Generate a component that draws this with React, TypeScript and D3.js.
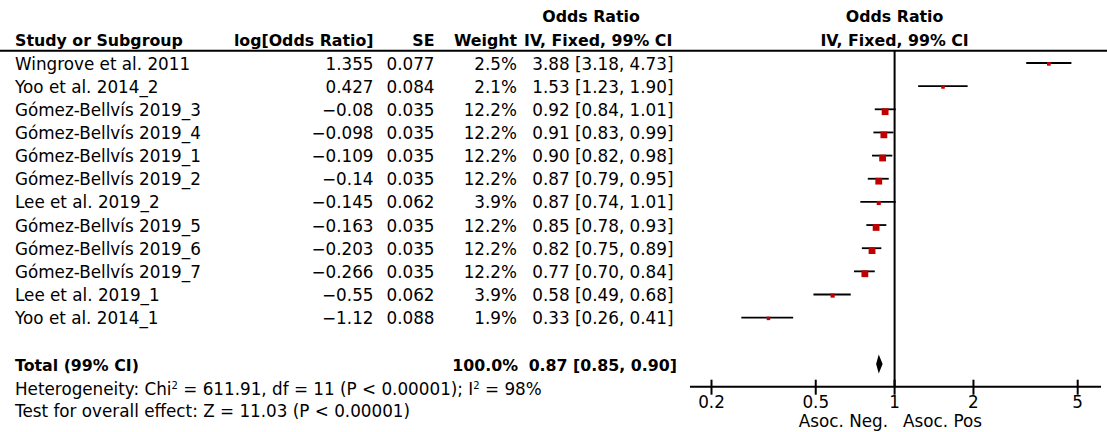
import React from "react";
import * as d3 from "d3";

const studies = [
  "Wingrove et al. 2011",
  "Yoo et al. 2014_2",
  "Gómez-Bellvís 2019_3",
  "Gómez-Bellvís 2019_4",
  "Gómez-Bellvís 2019_1",
  "Gómez-Bellvís 2019_2",
  "Lee et al. 2019_2",
  "Gómez-Bellvís 2019_5",
  "Gómez-Bellvís 2019_6",
  "Gómez-Bellvís 2019_7",
  "Lee et al. 2019_1",
  "Yoo et al. 2014_1",
];
const logOR = [1.355, 0.427, -0.08, -0.098, -0.109, -0.14, -0.145, -0.163, -0.203, -0.266, -0.55, -1.12];
const seVals = [0.077, 0.084, 0.035, 0.035, 0.035, 0.035, 0.062, 0.035, 0.035, 0.035, 0.062, 0.088];
const weights = [2.5, 2.1, 12.2, 12.2, 12.2, 12.2, 3.9, 12.2, 12.2, 12.2, 3.9, 1.9];
const orVals = [3.88, 1.53, 0.92, 0.91, 0.9, 0.87, 0.87, 0.85, 0.82, 0.77, 0.58, 0.33];
const orLo = [3.18, 1.23, 0.84, 0.83, 0.82, 0.79, 0.74, 0.78, 0.75, 0.7, 0.49, 0.26];
const orHi = [4.73, 1.9, 1.01, 0.99, 0.98, 0.95, 1.01, 0.93, 0.89, 0.84, 0.68, 0.41];
const total = { weight: 100.0, or: 0.87, lo: 0.85, hi: 0.9 };
const axisTicks = [0.2, 0.5, 1, 2, 5];

const FONT = "'DejaVu Sans', sans-serif";
const FS = 16.8;
const FSB = 15.8;

const fmtNum = (v: number) => String(v).replace("-", "\u2212");

export default function App() {
  const x = d3.scaleLog().domain([0.2, 5]).range([711.5, 1077.7]);
  const rowY = d3
    .scaleLinear()
    .domain([0, studies.length - 1])
    .range([63, 63 + 23.15 * (studies.length - 1)]);
  const side = d3.scaleLinear().domain([1.9, 12.2]).range([3.5, 6.8]);
  const totalY = 364;
  const axisY = 386.7;
  const headerLineY = 50.7;
  const lineX = x(1);
  const red = "#C00000";
  const base = 6.5;

  return (
    <svg
      width={1107}
      height={432}
      style={{ position: "absolute", left: 0, top: 0, background: "#fff" }}
      fontFamily={FONT}
      fontSize={FS}
    >
      <rect x={0} y={0} width={1107} height={432} fill="#fff" />
      {/* headers */}
      <g fontWeight="bold" fontSize={FSB}>
        <text x={591} y={22} textAnchor="middle">Odds Ratio</text>
        <text x={15} y={45.5}>Study or Subgroup</text>
        <text x={373.5} y={45.5} textAnchor="end">log[Odds Ratio]</text>
        <text x={434.5} y={45.5} textAnchor="end">SE</text>
        <text x={517} y={45.5} textAnchor="end">Weight</text>
        <text x={524} y={45.5}>IV, Fixed, 99% CI</text>
        <text x={lineX} y={22} textAnchor="middle">Odds Ratio</text>
        <text x={lineX} y={45.5} textAnchor="middle">IV, Fixed, 99% CI</text>
      </g>
      <line x1={0} x2={1107} y1={headerLineY} y2={headerLineY} stroke="#000" strokeWidth={2} />

      {/* table rows */}
      {studies.map((s, i) => {
        const y = rowY(i) + base;
        return (
          <g key={s}>
            <text x={15} y={y}>{s}</text>
            <text x={373.5} y={y} textAnchor="end">{fmtNum(logOR[i])}</text>
            <text x={434.5} y={y} textAnchor="end">{seVals[i].toFixed(3)}</text>
            <text x={517} y={y} textAnchor="end">{weights[i].toFixed(1)}%</text>
            <text x={673.5} y={y} textAnchor="end">
              {`${orVals[i].toFixed(2)} [${orLo[i].toFixed(2)}, ${orHi[i].toFixed(2)}]`}
            </text>
          </g>
        );
      })}

      {/* total row */}
      <g fontWeight="bold" fontSize={FSB}>
        <text x={15} y={totalY + base}>Total (99% CI)</text>
        <text x={518} y={totalY + base} textAnchor="end">{total.weight.toFixed(1)}%</text>
        <text x={677} y={totalY + base} textAnchor="end">
          {`${total.or.toFixed(2)} [${total.lo.toFixed(2)}, ${total.hi.toFixed(2)}]`}
        </text>
      </g>
      <text x={15} y={394.5}>
        Heterogeneity: Chi
        <tspan fontSize={10} dy={-6}>2</tspan>
        <tspan dy={6}> = 611.91, df = 11 (P &lt; 0.00001); I</tspan>
        <tspan fontSize={10} dy={-6}>2</tspan>
        <tspan dy={6}> = 98%</tspan>
      </text>
      <text x={15} y={417}>Test for overall effect: Z = 11.03 (P &lt; 0.00001)</text>

      {/* forest plot */}
      <line x1={lineX} x2={lineX} y1={headerLineY} y2={axisY} stroke="#000" strokeWidth={2} />
      {studies.map((s, i) => {
        const y = rowY(i);
        const sz = side(weights[i]);
        return (
          <g key={"p" + s}>
            <line x1={x(orLo[i])} x2={x(orHi[i])} y1={y} y2={y} stroke="#000" strokeWidth={1.8} />
            <rect x={x(orVals[i]) - sz / 2} y={y - 1} width={sz} height={sz} fill={red} />
          </g>
        );
      })}
      <polygon
        points={[
          [x(total.lo), totalY],
          [x(total.or), totalY - 9.5],
          [x(total.hi), totalY],
          [x(total.or), totalY + 9.5],
        ]
          .map((p) => p.join(","))
          .join(" ")}
        fill="#000"
      />

      {/* axis */}
      <line x1={690} x2={1101} y1={axisY} y2={axisY} stroke="#000" strokeWidth={2} />
      {axisTicks.map((t) => (
        <g key={"t" + t}>
          <line x1={x(t)} x2={x(t)} y1={axisY - 7} y2={axisY + 8} stroke="#000" strokeWidth={2} />
          <text x={x(t)} y={408} textAnchor="middle">{String(t)}</text>
        </g>
      ))}
      <text x={888} y={426.5} textAnchor="end">Asoc. Neg.</text>
      <text x={903} y={426.5}>Asoc. Pos</text>
    </svg>
  );
}
